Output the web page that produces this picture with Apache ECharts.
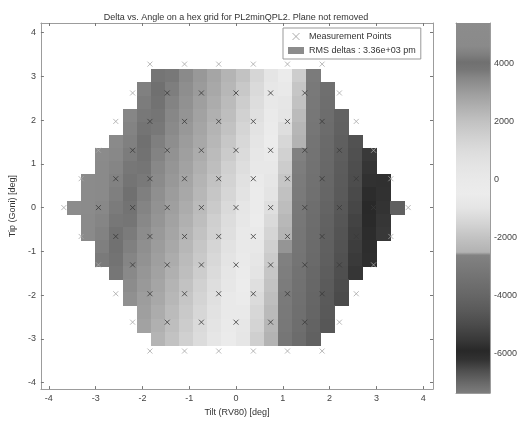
<!DOCTYPE html>
<html>
<head>
  <meta charset="utf-8">
  <title>Delta vs. Angle</title>
  <script src="https://cdn.jsdelivr.net/npm/echarts@6/dist/echarts.min.js"></script>
  <style>
    html, body { margin: 0; padding: 0; background: #fff; }
    #chart { width: 520px; height: 422px; }
  </style>
</head>
<body>
  <div id="chart"></div>
  <script>
    // centres of the map cells (deg)
    const cellX = [-3.45, -3.15, -2.85, -2.55, -2.25, -1.95, -1.65, -1.35, -1.05, -0.75, -0.45, -0.15,
                   0.15, 0.45, 0.75, 1.05, 1.35, 1.65, 1.95, 2.25, 2.55, 2.85, 3.15, 3.45];
    const cellY = [3.0, 2.7, 2.4, 2.1, 1.8, 1.5, 1.2, 0.9, 0.6, 0.3, 0, -0.3, -0.6, -0.9, -1.2, -1.5,
                   -1.8, -2.1, -2.4, -2.7, -3.0];
    const CELL_W = 0.3, CELL_H = 0.3;
    const _ = null;
    // delta (pm) per cell, one row per cellY
    const deltaRows = [
      [_, _, _, _, _, _, 4130, 3770, 3430, 3120, 2800, 2400, 2000, 1250, 440, -530, -1710, -2970, _, _, _, _, _, _],
      [_, _, _, _, _, 4350, 4050, 3670, 3350, 3040, 2700, 2300, 1810, 1090, 265, -680, -1880, -3050, -3550, _, _, _, _, _],
      [_, _, _, _, _, 4270, 3960, 3570, 3270, 2960, 2600, 2200, 1625, 940, 85, -830, -1990, -3100, -3600, _, _, _, _, _],
      [_, _, _, _, 4500, 4200, 3870, 3500, 3190, 2880, 2500, 2100, 1460, 750, -95, -970, -2230, -3170, -3670, -4170, _, _, _, _],
      [_, _, _, _, 4420, 4120, 3760, 3420, 3110, 2800, 2400, 2000, 1315, 575, -275, -1190, -2370, -3220, -3720, -4220, _, _, _, _],
      [_, _, _, 4640, 4340, 4040, 3650, 3340, 3030, 2700, 2300, 1830, 1170, 405, -440, -1400, -2480, -3280, -3780, -4280, -4780, _, _, _],
      [_, _, 4850, 4560, 4260, 3950, 3560, 3260, 2950, 2600, 2200, 1670, 1030, 240, -590, -1570, -2720, -3340, -3840, -4340, -4840, -5510, _, _],
      [_, _, 4770, 4480, 4180, 3840, 3480, 3180, 2870, 2500, 2100, 1520, 860, 80, -730, -1730, -2830, -3400, -3900, -4400, -4900, -5600, _, _],
      [_, 4980, 4710, 4410, 4110, 3750, 3410, 3110, 2800, 2400, 2000, 1370, 695, -80, -870, -1880, -2930, -3460, -3960, -4460, -4960, -5700, -6150, _],
      [_, 4910, 4630, 4330, 4030, 3640, 3330, 3030, 2700, 2300, 1850, 1235, 535, -230, -1000, -2030, -3020, -3520, -4020, -4520, -5035, -5790, -6180, _],
      [5300, 4840, 4550, 4250, 3930, 3550, 3250, 2950, 2600, 2200, 1700, 1100, 375, -375, -1170, -2170, -3080, -3580, -4080, -4580, -5125, -5875, -6210, -6850],
      [_, 4760, 4470, 4170, 3830, 3470, 3170, 2870, 2500, 2100, 1560, 960, 220, -510, -1320, -2300, -3140, -3640, -4140, -4640, -5215, -5965, -6245, _],
      [_, 4690, 4390, 4090, 3720, 3390, 3090, 2800, 2400, 2000, 1430, 800, 70, -640, -1470, -2430, -3200, -3700, -4200, -4700, -5300, -6020, -6280, _],
      [_, _, 4320, 4020, 3630, 3320, 3020, 2700, 2300, 1860, 1290, 650, -70, -770, -1610, -2560, -3260, -3760, -4260, -4760, -5400, -6050, _, _],
      [_, _, 4240, 3920, 3540, 3240, 2950, 2600, 2200, 1730, 1160, 495, -200, -890, -1750, -2680, -3320, -3820, -4320, -4820, -5485, -6080, _, _],
      [_, _, _, 3810, 3460, 3160, 2870, 2500, 2100, 1600, 1040, 350, -330, -1010, -1880, -2790, -3380, -3880, -4380, -4880, -5575, _, _, _],
      [_, _, _, _, 3380, 3090, 2800, 2400, 2000, 1475, 895, 205, -445, -1150, -2010, -2900, -3440, -3940, -4440, -4940, _, _, _, _],
      [_, _, _, _, 3300, 3010, 2700, 2300, 1870, 1350, 750, 70, -565, -1280, -2130, -3000, -3500, -4000, -4500, -5000, _, _, _, _],
      [_, _, _, _, _, 2940, 2600, 2200, 1750, 1220, 600, -60, -680, -1400, -2250, -3060, -3560, -4060, -4560, _, _, _, _, _],
      [_, _, _, _, _, 2870, 2500, 2100, 1630, 1110, 480, -180, -800, -1510, -2360, -3120, -3620, -4120, -4620, _, _, _, _, _],
      [_, _, _, _, _, _, 2400, 2000, 1520, 990, 325, -290, -910, -1640, -2470, -3180, -3680, -4180, _, _, _, _, _, _]
    ];

    // measurement points on the hex grid, one list of x per row
    const pointY = [3.28, 2.62, 1.97, 1.31, 0.66, 0, -0.66, -1.31, -1.97, -2.62, -3.28];
    const pointX = [
      [-1.84, -1.10, -0.37, 0.37, 1.10, 1.84],
      [-2.21, -1.47, -0.74, 0, 0.74, 1.47, 2.21],
      [-2.57, -1.84, -1.10, -0.37, 0.37, 1.10, 1.84, 2.57],
      [-2.94, -2.21, -1.47, -0.74, 0, 0.74, 1.47, 2.21, 2.94],
      [-3.31, -2.57, -1.84, -1.10, -0.37, 0.37, 1.10, 1.84, 2.57, 3.31],
      [-3.68, -2.94, -2.21, -1.47, -0.74, 0, 0.74, 1.47, 2.21, 2.94, 3.68],
      [-3.31, -2.57, -1.84, -1.10, -0.37, 0.37, 1.10, 1.84, 2.57, 3.31],
      [-2.94, -2.21, -1.47, -0.74, 0, 0.74, 1.47, 2.21, 2.94],
      [-2.57, -1.84, -1.10, -0.37, 0.37, 1.10, 1.84, 2.57],
      [-2.21, -1.47, -0.74, 0, 0.74, 1.47, 2.21],
      [-1.84, -1.10, -0.37, 0.37, 1.10, 1.84]
    ];

    const axisTicks = [-4, -3, -2, -1, 0, 1, 2, 3, 4];
    const barTicks = [-6000, -4000, -2000, 0, 2000, 4000];
    const barMin = -7350, barMax = 5400;
    const rmsLabel = 'RMS deltas : 3.36e+03 pm';

    // grey colormap: [value, grey level], high to low
    const grayStops = [
      [5400, 140], [4600, 138], [4300, 126], [4050, 112], [3800, 118], [3500, 135], [3000, 157],
      [2500, 176], [2000, 194], [1500, 208], [1000, 220], [500, 228], [0, 233], [-500, 236],
      [-1000, 228], [-1500, 212], [-2000, 194], [-2500, 178], [-2600, 130], [-3000, 122],
      [-3500, 112], [-4000, 102], [-4500, 90], [-5000, 75], [-5500, 57], [-5900, 40],
      [-6200, 50], [-6600, 80], [-7000, 105], [-7350, 125]
    ];

    function gray(g) { return 'rgb(' + g + ',' + g + ',' + g + ')'; }
    function grayAt(v) {
      for (let k = 0; k < grayStops.length - 1; k++) {
        const [v0, g0] = grayStops[k], [v1, g1] = grayStops[k + 1];
        if (v <= v0 && v >= v1) return Math.round(g0 + (g1 - g0) * (v0 - v) / (v0 - v1));
      }
      return v > grayStops[0][0] ? grayStops[0][1] : grayStops[grayStops.length - 1][1];
    }
    const mapColors = [];
    for (let n = 0; n < 256; n++) mapColors.push(gray(grayAt(barMin + (barMax - barMin) * n / 255)));
    const barStops = grayStops.map(([v, g]) => ({ offset: (barMax - v) / (barMax - barMin), color: gray(g) }));

    const cells = [];
    deltaRows.forEach((row, r) => row.forEach((v, i) => {
      if (v !== null) cells.push([cellX[i], cellY[r], v]);
    }));
    const innerPts = [], edgePts = [];
    pointX.forEach((xs, r) => xs.forEach((x, j) => {
      const edge = r === 0 || r === pointY.length - 1 || j === 0 || j === xs.length - 1;
      (edge ? edgePts : innerPts).push([x, pointY[r]]);
    }));

    const FONT = '"Liberation Sans", Arial, sans-serif';
    const FRAME = '#9c9c9c';
    const LABEL = { fontSize: 9, color: '#444', fontFamily: FONT };
    const X_MARK = 'path://M0,0L10,10M10,0L0,10';

    function frameAxis(extra) {
      return Object.assign({
        type: 'value',
        axisLine: { show: true, onZero: false, lineStyle: { color: FRAME, width: 1 } },
        axisTick: { show: true, inside: true, length: 3, lineStyle: { color: '#777' } },
        axisLabel: { show: false },
        splitLine: { show: false }
      }, extra);
    }

    const chart = echarts.init(document.getElementById('chart'));
    const option = {
      animation: false,
      backgroundColor: '#fff',
      title: {
        text: 'Delta vs. Angle on a hex grid for PL2minQPL2. Plane not removed',
        left: 231, top: 8, textAlign: 'center',
        textStyle: { fontSize: 9, fontWeight: 'normal', color: '#333', fontFamily: FONT }
      },
      legend: {
        left: 283, top: 28, orient: 'vertical',
        padding: [4, 5, 4, 5], itemGap: 5, itemWidth: 16, itemHeight: 7,
        borderColor: '#999', borderWidth: 1, backgroundColor: '#fff',
        selectedMode: false,
        textStyle: { fontSize: 9, color: '#333', fontFamily: FONT },
        data: [
          { name: 'Measurement Points', icon: X_MARK, itemStyle: { color: '#999', borderColor: '#999', borderWidth: 1 } },
          { name: rmsLabel, icon: 'rect', itemStyle: { color: '#8c8c8c' } }
        ]
      },
      visualMap: {
        show: false, type: 'continuous', min: barMin, max: barMax,
        dimension: 2, seriesIndex: 0, inRange: { color: mapColors }
      },
      grid: [
        { left: 34, top: 23, width: 399, height: 370 },
        { left: 456, top: 23, width: 36, height: 370 }
      ],
      xAxis: [
        frameAxis({
          gridIndex: 0, position: 'bottom', min: -4.17, max: 4.21,
          axisTick: { show: true, inside: true, length: 3, customValues: axisTicks, lineStyle: { color: '#777' } },
          axisLabel: Object.assign({ show: true, margin: 5, customValues: axisTicks }, LABEL),
          name: 'Tilt (RV80) [deg]', nameLocation: 'middle', nameGap: 16,
          nameTextStyle: { fontSize: 9, color: '#333', fontFamily: FONT }
        }),
        frameAxis({
          gridIndex: 0, position: 'top', min: -4.17, max: 4.21,
          axisTick: { show: true, inside: true, length: 3, customValues: axisTicks, lineStyle: { color: '#777' } }
        }),
        frameAxis({ gridIndex: 1, position: 'bottom', min: 0, max: 1, axisTick: { show: false } }),
        frameAxis({ gridIndex: 1, position: 'top', min: 0, max: 1, axisTick: { show: false } })
      ],
      yAxis: [
        frameAxis({
          gridIndex: 0, position: 'left', min: -4.15, max: 4.22,
          axisTick: { show: true, inside: true, length: 3, customValues: axisTicks, lineStyle: { color: '#777' } },
          axisLabel: Object.assign({ show: true, margin: 5, customValues: axisTicks }, LABEL),
          name: 'Tip (Goni) [deg]', nameLocation: 'middle', nameGap: 16,
          nameTextStyle: { fontSize: 9, color: '#333', fontFamily: FONT }
        }),
        frameAxis({
          gridIndex: 0, position: 'right', min: -4.15, max: 4.22,
          axisTick: { show: true, inside: true, length: 3, customValues: axisTicks, lineStyle: { color: '#777' } }
        }),
        frameAxis({
          gridIndex: 1, position: 'right', min: barMin, max: barMax,
          axisTick: { show: true, inside: true, length: 3, customValues: barTicks, lineStyle: { color: '#666' } },
          axisLabel: Object.assign({ show: true, margin: 4, customValues: barTicks, formatter: v => String(v) }, LABEL)
        }),
        frameAxis({
          gridIndex: 1, position: 'left', min: barMin, max: barMax,
          axisTick: { show: true, inside: true, length: 3, customValues: barTicks, lineStyle: { color: '#666' } }
        })
      ],
      series: [
        {
          name: rmsLabel,
          type: 'custom',
          xAxisIndex: 0, yAxisIndex: 0,
          encode: { x: 0, y: 1 },
          data: cells,
          renderItem: function (params, api) {
            const x = api.value(0), y = api.value(1);
            const p0 = api.coord([x - CELL_W / 2, y + CELL_H / 2]);
            const p1 = api.coord([x + CELL_W / 2, y - CELL_H / 2]);
            const x0 = Math.floor(p0[0]), y0 = Math.floor(p0[1]);
            return {
              type: 'rect',
              shape: { x: x0, y: y0, width: Math.ceil(p1[0]) - x0, height: Math.ceil(p1[1]) - y0 },
              style: { fill: api.visual('color') }
            };
          },
          z: 1
        },
        {
          name: 'Measurement Points',
          type: 'scatter',
          xAxisIndex: 0, yAxisIndex: 0,
          symbol: X_MARK, symbolSize: 5,
          itemStyle: { color: '#3a3a3a', borderColor: '#3a3a3a', borderWidth: 1 },
          data: innerPts,
          z: 3
        },
        {
          name: 'Measurement Points',
          type: 'scatter',
          xAxisIndex: 0, yAxisIndex: 0,
          symbol: X_MARK, symbolSize: 5,
          itemStyle: { color: '#a8a8a8', borderColor: '#a8a8a8', borderWidth: 1 },
          data: edgePts,
          z: 3
        },
        {
          type: 'custom',
          xAxisIndex: 2, yAxisIndex: 2,
          silent: true,
          data: [[0, barMax]],
          renderItem: function (params, api) {
            const p0 = api.coord([0, barMax]);
            const p1 = api.coord([1, barMin]);
            return {
              type: 'rect',
              shape: { x: p0[0], y: p0[1], width: p1[0] - p0[0], height: p1[1] - p0[1] },
              style: { fill: new echarts.graphic.LinearGradient(0, 0, 0, 1, barStops) }
            };
          }
        }
      ]
    };
    chart.setOption(option);
  </script>
</body>
</html>
